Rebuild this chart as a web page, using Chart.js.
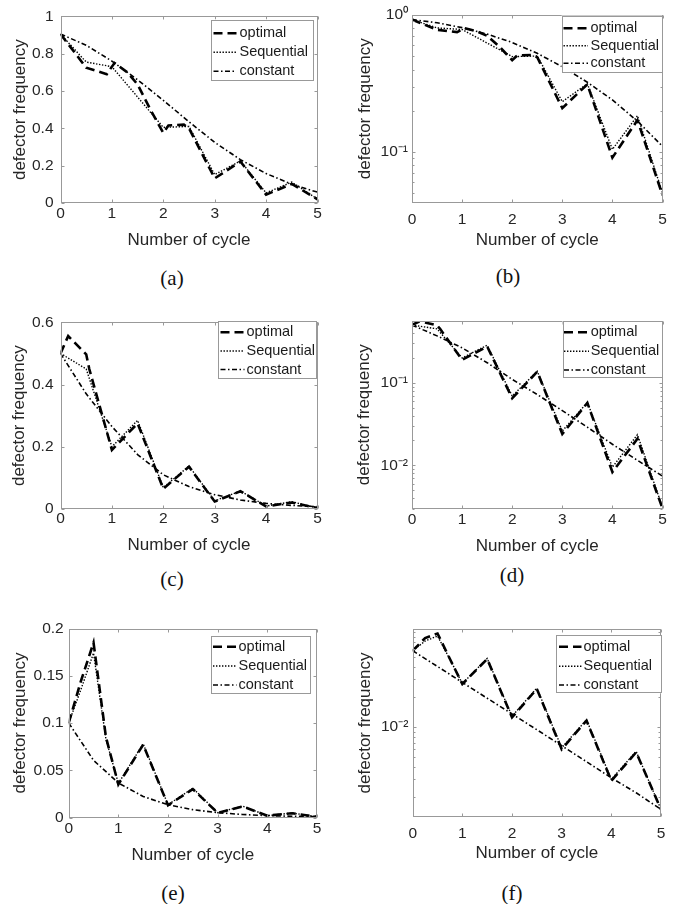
<!DOCTYPE html>
<html>
<head>
<meta charset="utf-8">
<script src="https://cdn.jsdelivr.net/npm/chart.js@4.4.1/dist/chart.umd.min.js"></script>
<style>
  html, body { margin: 0; padding: 0; background: #fff; }
  #page { position: relative; width: 685px; height: 904px; overflow: hidden; background: #fff; }
  #page canvas { position: absolute; }
  .cap {
    position: absolute; width: 60px; margin-left: -30px; text-align: center;
    font-family: "Liberation Serif", "DejaVu Serif", serif; font-size: 21px; line-height: 21px; color: #111;
  }
</style>
</head>
<body>
<div id="page"></div>
<script>
// x axis
const cycleTicks = [0, 1, 2, 3, 4, 5];
const halfCycles = [0, 0.5, 1, 1.5, 2, 2.5, 3, 3.5, 4, 4.5, 5];

// (a) linear
const optimalCycleA = [0, 0.5, 0.9, 1.05, 1.3, 1.5, 1.75, 2, 2.1, 2.4, 2.5, 3, 3.5, 4, 4.5, 5];
const optimalFreqA = [0.905, 0.725, 0.69, 0.75, 0.70, 0.635, 0.50, 0.375, 0.415, 0.42, 0.40, 0.132, 0.222, 0.045, 0.102, 0.02];
const sequentialCycleA = [0, 0.5, 1, 2, 2.5, 3, 3.5, 4, 4.5, 5];
const sequentialFreqA = [0.905, 0.755, 0.73, 0.405, 0.41, 0.152, 0.225, 0.054, 0.112, 0.021];
const constantFreqA = [0.905, 0.845, 0.76, 0.66, 0.55, 0.435, 0.325, 0.232, 0.158, 0.1, 0.058];

// (b) log, read on its own axis
const optimalFreqB = [0.926, 0.78, 0.75, 0.80, 0.759, 0.704, 0.585, 0.468, 0.506, 0.511, 0.492, 0.209, 0.312, 0.091, 0.171, 0.0484];
const sequentialFreqB = [0.926, 0.805, 0.784, 0.497, 0.502, 0.233, 0.315, 0.1045, 0.184, 0.0503];
const constantFreqB = [0.926, 0.878, 0.809, 0.725, 0.63, 0.525, 0.419, 0.323, 0.24, 0.168, 0.11];

// (c) linear and (d) log
const optimalCycleC = [0, 0.15, 0.5, 0.56, 1, 1.5, 2, 2.5, 3, 3.5, 4, 4.5, 5];
const optimalFreqC = [0.5, 0.556, 0.497, 0.45, 0.19, 0.275, 0.065, 0.136, 0.024, 0.057, 0.0083, 0.021, 0.003];
const sequentialFreqC = [0.5, 0.45, 0.2, 0.285, 0.069, 0.138, 0.026, 0.058, 0.0095, 0.0235, 0.0031];
const constantFreqC = [0.5, 0.37, 0.265, 0.175, 0.11, 0.072, 0.046, 0.029, 0.018, 0.0115, 0.0074];

// (e) linear
const optimalCycleE = [0, 0.25, 0.5, 0.75, 1, 1.5, 2, 2.5, 3, 3.5, 4, 4.5, 5];
const optimalFreqE = [0.1, 0.145, 0.185, 0.085, 0.035, 0.077, 0.013, 0.03, 0.0049, 0.0117, 0.0019, 0.0045, 0.0008];
const sequentialFreqE = [0.1, 0.136, 0.174, 0.083, 0.036, 0.078, 0.0135, 0.031, 0.0051, 0.012, 0.002, 0.0047, 0.0008];
const constantFreqE = [0.1, 0.0605, 0.0366, 0.0222, 0.0135, 0.0083, 0.0051, 0.0032, 0.002, 0.0013, 0.00085];

// (f) log, read on its own axis
const optimalFreqF = [0.0579, 0.0776, 0.0861, 0.0479, 0.0269, 0.0479, 0.0125, 0.024, 0.006, 0.0116, 0.0029, 0.0056, 0.0015];
const sequentialFreqF = [0.0579, 0.0724, 0.0813, 0.0475, 0.0272, 0.0485, 0.0128, 0.0245, 0.0062, 0.0118, 0.003, 0.0057, 0.0015];
const constantFreqF = [0.0579, 0.0403, 0.0279, 0.0194, 0.0135, 0.0094, 0.0065, 0.0045, 0.0031, 0.0022, 0.0015];

// y tick labels of the linear panels
const yTicksA = [0, 0.2, 0.4, 0.6, 0.8, 1];
const yTicksC = [0, 0.2, 0.4, 0.6];
const yTicksE = [0, 0.05, 0.1, 0.15, 0.2];

const seriesNames = ["optimal", "Sequential", "constant"];

const FONT = "'Liberation Sans', Arial, Helvetica, sans-serif";
const TEXT = "#262626";
const AXIS = "#999";

const SUP = { "-": "\u207B", "0": "\u2070", "1": "\u00B9", "2": "\u00B2", "3": "\u00B3", "4": "\u2074" };
const isDecade = (v) => Math.abs(Math.log10(v) - Math.round(Math.log10(v))) < 1e-9;
const powerLabel = (v) => "10" + String(Math.round(Math.log10(v))).split("").map((c) => SUP[c]).join("");

function logTicks(min, max) {
  const out = [];
  for (let e = Math.floor(Math.log10(min)); e <= Math.ceil(Math.log10(max)); e++) {
    for (let m = 1; m <= 9; m++) {
      const v = m * Math.pow(10, e);
      if (v >= min * 0.9999 && v <= max * 1.0001) out.push({ value: v, major: m === 1 });
    }
  }
  return out;
}

const pts = (xs, ys) => xs.map((x, i) => ({ x, y: ys[i] }));

const panels = [
  { cap: "(a)", capAt: [172, 280], canvas: [0, 0, 335, 253], plot: [60.5, 15, 317.5, 203],
    log: false, yMin: 0, yMax: 1, yTicks: yTicksA, yPad: 7, xPad: 1, yTitlePad: 10,
    opt: [optimalCycleA, optimalFreqA], seq: [sequentialCycleA, sequentialFreqA], con: [halfCycles, constantFreqA],
    legend: { box: [211, 19.5, 314, 80], rows: [33.3, 52.3, 71.3], sample: [213.5, 236.5], textX: 239.5 } },
  { cap: "(b)", capAt: [508, 278.5], canvas: [342, 0, 335, 253], plot: [412, 15, 662.5, 202.5],
    log: true, yMin: 0.0428, yMax: 1, yPad: 4, xPad: 8, yTitlePad: 13.3,
    opt: [optimalCycleA, optimalFreqB], seq: [sequentialCycleA, sequentialFreqB], con: [halfCycles, constantFreqB],
    legend: { box: [561.5, 15.5, 662, 72], rows: [28.3, 45.8, 63.3], sample: [563.5, 588], textX: 590.5 } },
  { cap: "(c)", capAt: [172, 581.5], canvas: [0, 306, 335, 252], plot: [60.5, 321, 317.5, 509],
    log: false, yMin: 0, yMax: 0.6, yTicks: yTicksC, yPad: 7, xPad: 0, yTitlePad: 9.1,
    opt: [optimalCycleC, optimalFreqC], seq: [halfCycles, sequentialFreqC], con: [halfCycles, constantFreqC],
    legend: { box: [218, 321, 316.5, 378.5], rows: [332.3, 351, 369.5], sample: [220.5, 244.5], textX: 246.5 } },
  { cap: "(d)", capAt: [512, 577], canvas: [342, 306, 335, 253], plot: [412, 321, 662.5, 508.5],
    log: true, yMin: 0.003, yMax: 0.56, yPad: 4, xPad: 2, yTitlePad: 12.6,
    opt: [optimalCycleC, optimalFreqC], seq: [halfCycles, sequentialFreqC], con: [halfCycles, constantFreqC],
    legend: { box: [562.5, 321, 662, 378], rows: [332.3, 351.3, 370], sample: [564, 589], textX: 590.7 } },
  { cap: "(e)", capAt: [173, 895], canvas: [0, 612, 335, 256], plot: [68.7, 628.5, 317, 817.5],
    log: false, yMin: 0, yMax: 0.2, yTicks: yTicksE, yPad: 5, xPad: 1.5, yTitlePad: 10.5,
    opt: [optimalCycleE, optimalFreqE], seq: [optimalCycleE, sequentialFreqE], con: [halfCycles, constantFreqE],
    legend: { box: [210.7, 635.7, 310.7, 694], rows: [646.7, 666, 685], sample: [213, 236.5], textX: 238.5 } },
  { cap: "(f)", capAt: [512, 895], canvas: [342, 612, 335, 254], plot: [412.7, 629, 661, 817],
    log: true, yMin: 0.00126, yMax: 0.0955, yPad: 4.4, xPad: 7, yTitlePad: 13.3,
    opt: [optimalCycleE, optimalFreqF], seq: [optimalCycleE, sequentialFreqF], con: [halfCycles, constantFreqF],
    legend: { box: [556, 635, 662, 693.3], rows: [646.7, 666.3, 685], sample: [559, 581.5], textX: 583.5 } }
];

// box round the axes, ticks pointing inwards on all four sides
const frame = {
  id: "frame",
  afterDatasetsDraw(chart) {
    const { ctx, chartArea: a, scales } = chart;
    const L = Math.round(a.left) + 0.5, R = Math.round(a.right) - 0.5;
    const T = Math.round(a.top) + 0.5, B = Math.round(a.bottom) - 0.5;
    ctx.save();
    ctx.strokeStyle = AXIS;
    ctx.lineWidth = 1;
    ctx.beginPath();
    scales.x.ticks.forEach((t) => {
      const px = Math.round(scales.x.getPixelForValue(t.value)) + 0.5;
      ctx.moveTo(px, B); ctx.lineTo(px, B - 3);
      ctx.moveTo(px, T); ctx.lineTo(px, T + 3);
    });
    scales.y.ticks.forEach((t) => {
      const py = Math.round(scales.y.getPixelForValue(t.value)) + 0.5;
      const len = t.major === false ? 2 : 3;
      ctx.moveTo(L, py); ctx.lineTo(L + len, py);
      ctx.moveTo(R, py); ctx.lineTo(R - len, py);
    });
    ctx.stroke();
    ctx.strokeRect(L, T, R - L, B - T);
    ctx.restore();
  }
};

// legend drawn inside the axes, like the MATLAB one
const boxLegend = {
  id: "boxLegend",
  afterDraw(chart, args, opts) {
    const { ctx } = chart;
    const [x0, y0, x1, y1] = opts.box;
    ctx.save();
    ctx.fillStyle = "#fff";
    ctx.fillRect(x0, y0, x1 - x0, y1 - y0);
    ctx.strokeStyle = AXIS;
    ctx.lineWidth = 1;
    ctx.strokeRect(Math.round(x0) + 0.5, Math.round(y0) + 0.5, Math.round(x1 - x0) - 1, Math.round(y1 - y0) - 1);
    chart.data.datasets.forEach((ds, i) => {
      const y = opts.rows[i];
      ctx.beginPath();
      ctx.setLineDash(ds.borderDash || []);
      ctx.lineWidth = ds.borderWidth;
      ctx.strokeStyle = ds.borderColor;
      ctx.moveTo(opts.sample[0], y);
      ctx.lineTo(opts.sample[1], y);
      ctx.stroke();
      ctx.setLineDash([]);
      ctx.fillStyle = "#1a1a1a";
      ctx.font = "14.5px " + FONT;
      ctx.textBaseline = "middle";
      ctx.textAlign = "left";
      ctx.fillText(ds.label, opts.textX, y);
    });
    ctx.restore();
  }
};

const page = document.getElementById("page");

panels.forEach((p) => {
  const [cl, ct, cw, ch] = p.canvas;
  const [pl, pt, pr, pb] = p.plot;
  const canvas = document.createElement("canvas");
  canvas.width = cw;
  canvas.height = ch;
  canvas.style.left = cl + "px";
  canvas.style.top = ct + "px";
  canvas.style.width = cw + "px";
  canvas.style.height = ch + "px";
  page.appendChild(canvas);

  const cap = document.createElement("div");
  cap.className = "cap";
  cap.textContent = p.cap;
  cap.style.left = p.capAt[0] + "px";
  cap.style.top = (p.capAt[1] - 12.3) + "px";
  page.appendChild(cap);

  const lg = p.legend;
  const legendOpts = {
    box: [lg.box[0] - cl, lg.box[1] - ct, lg.box[2] - cl, lg.box[3] - ct],
    rows: lg.rows.map((r) => r - ct),
    sample: lg.sample.map((s) => s - cl),
    textX: lg.textX - cl
  };

  const tickFont = { family: FONT, size: 15.5 };
  const titleFont = { family: FONT, size: 17 };

  new Chart(canvas, {
    type: "line",
    data: {
      datasets: [
        { label: seriesNames[0], data: pts(p.opt[0], p.opt[1]), borderColor: "#000", borderWidth: 2.6, borderDash: [9, 5] },
        { label: seriesNames[1], data: pts(p.seq[0], p.seq[1]), borderColor: "#000", borderWidth: 1.4, borderDash: [1.4, 1.6] },
        { label: seriesNames[2], data: pts(p.con[0], p.con[1]), borderColor: "#000", borderWidth: 1.6, borderDash: [5, 2.5, 1.5, 2.5] }
      ]
    },
    options: {
      responsive: false,
      animation: false,
      events: [],
      elements: { point: { radius: 0 }, line: { tension: 0, fill: false } },
      layout: { padding: { top: pt - ct, right: cl + cw - pr, left: 0, bottom: 0 } },
      plugins: { legend: { display: false }, tooltip: { enabled: false }, boxLegend: legendOpts },
      scales: {
        x: {
          type: "linear",
          min: 0,
          max: 5,
          afterBuildTicks: (s) => { s.ticks = cycleTicks.map((v) => ({ value: v })); },
          afterFit: (s) => { s.height = ct + ch - pb; },
          grid: { display: false, drawTicks: false },
          border: { display: false },
          ticks: { font: tickFont, color: TEXT, padding: p.xPad, autoSkip: false, maxRotation: 0, callback: (v) => String(v) },
          title: { display: true, text: "Number of cycle", font: titleFont, color: TEXT, padding: { top: 0, bottom: 2 } }
        },
        y: {
          type: p.log ? "logarithmic" : "linear",
          min: p.yMin,
          max: p.yMax,
          afterBuildTicks: (s) => {
            s.ticks = p.log ? logTicks(p.yMin, p.yMax) : p.yTicks.map((v) => ({ value: v, major: true }));
          },
          afterFit: (s) => { s.width = pl - cl; },
          grid: { display: false, drawTicks: false },
          border: { display: false },
          ticks: {
            font: tickFont, color: TEXT, padding: p.yPad, autoSkip: false,
            callback: (v) => p.log ? (isDecade(v) ? powerLabel(v) : "") : String(Math.round(v * 100) / 100)
          },
          title: { display: true, text: "defector frequency", font: titleFont, color: TEXT, padding: { top: p.yTitlePad, bottom: 0 } }
        }
      }
    },
    plugins: [frame, boxLegend]
  });
});
</script>
</body>
</html>
